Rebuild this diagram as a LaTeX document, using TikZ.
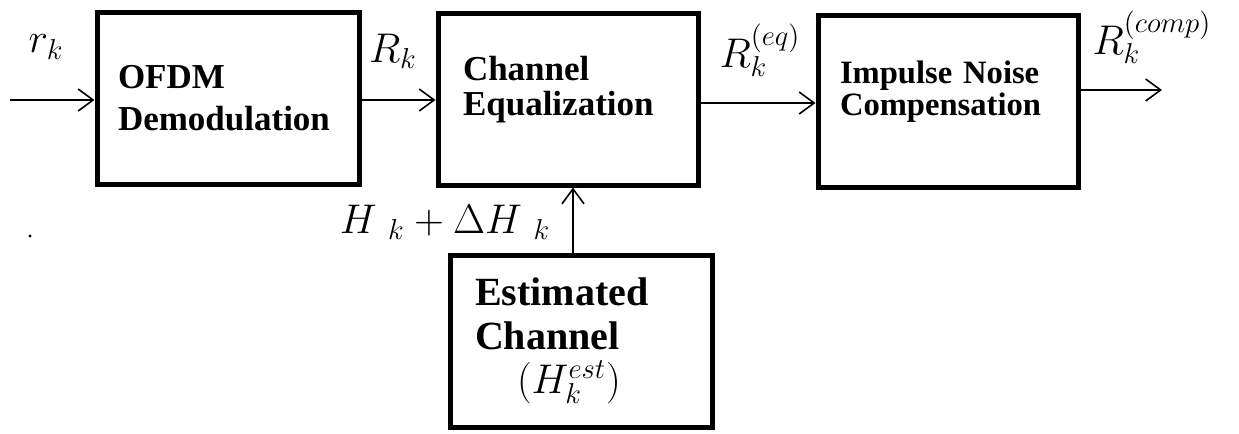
\documentclass[tikz,border=0pt]{standalone}
\usepackage{fontspec}
\setmainfont{Liberation Serif}
\usetikzlibrary{arrows.meta}

\tikzset{
  blk/.style={draw,line width=2.5pt,minimum height=86pt,align=left},
  sig/.style={line width=0.8pt,-{Straight Barb[length=7.5pt,width=11pt]}},
  lbl/.style={font=\fontsize{21}{25}\selectfont},
}

\begin{document}
\begin{tikzpicture}[x=0.5pt,y=-0.5pt]
	\useasboundingbox (0,0) rectangle (1239,434);
	% blocks
	\node[blk,minimum width=131pt,text width=110pt,inner xsep=10.5pt,
	      font=\bfseries\fontsize{17.5}{21}\selectfont] (demod) at (228,98) {OFDM\\Demodulation};
	\node[blk,minimum width=130pt,text width=105pt,inner xsep=12.5pt,
	      font=\bfseries\fontsize{17.5}{17.5}\selectfont] (equal) at (568,99) {Channel\\Equalization\\[-4.5pt]\mbox{}};
	\node[blk,minimum width=130pt,text width=108pt,inner xsep=11pt,
	      font=\bfseries\fontsize{16.3}{16}\selectfont] (comp) at (948,101) {Impulse Noise\\Compensation\\[-3pt]\mbox{}};
	\node[blk,minimum width=131pt,text width=106pt,inner xsep=12.5pt,
	      font=\bfseries\fontsize{20}{22}\selectfont] (est) at (581,341)
	      {Estimated\\Channel\\\hspace*{21pt}\mdseries$(H_k^{est})$};
	% free ends
	\coordinate (in) at (10,100);
	\coordinate (out) at (1162,90);
	\coordinate (tap) at (573,255);
	% signals
	\draw[sig] (in) -- (in -| demod.west);
	\draw[sig] (demod.east |- in) -- (equal.west |- in);
	\draw[sig] (equal.east |- 0,103) -- (comp.west |- 0,103);
	\draw[sig] (out -| comp.east) -- (out);
	\draw[sig] (tap) -- (tap |- equal.south);
	% labels
	\node[lbl] (rk) at (46,47) {$r_k$};
	\node[lbl] (Rk) at (393,51) {$R_k$};
	\node[lbl] (Req) at (760,50) {$R_k^{(eq)}$};
	\node[lbl] (Rcomp) at (1152,37) {$R_k^{(comp)}$};
	\node[lbl] (Hk) at (445,222) {$H\;{}_k+\Delta H\;{}_k$};
	\fill (30,236) circle (0.8pt);
\end{tikzpicture}
\end{document}
